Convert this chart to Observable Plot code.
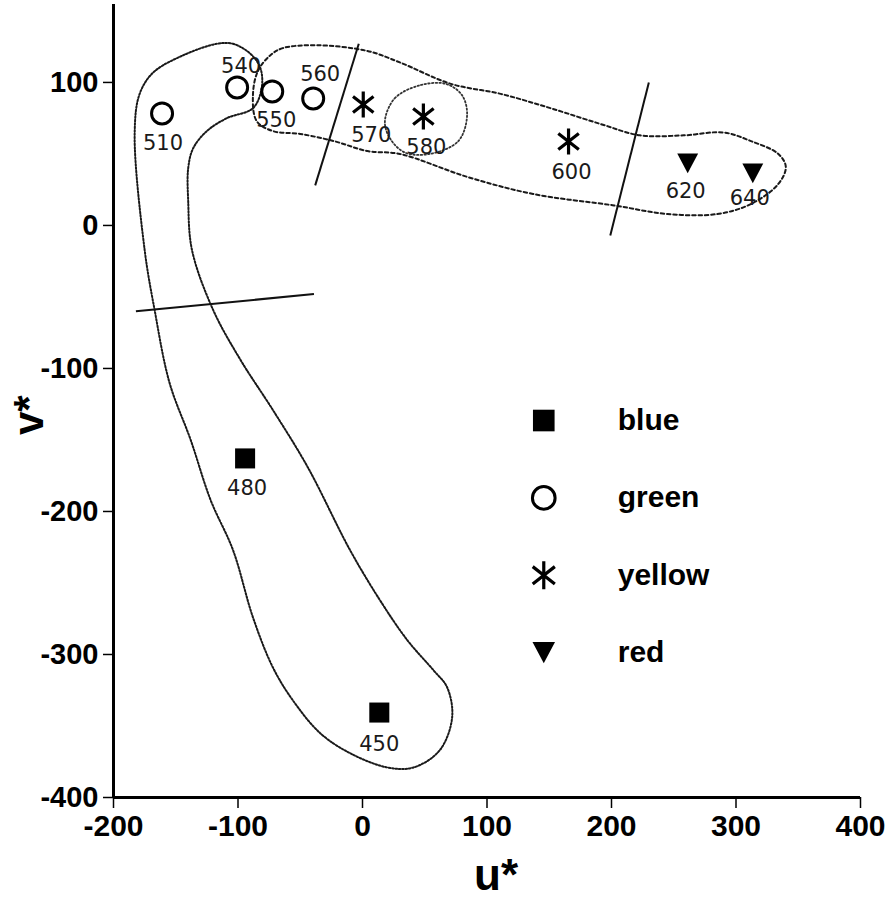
<!DOCTYPE html>
<html><head><meta charset="utf-8">
<script src="https://cdn.jsdelivr.net/npm/d3@7"></script>
<script src="https://cdn.jsdelivr.net/npm/@observablehq/plot@0.6"></script>
<style>body{margin:0;background:#fff;} #chart{width:888px;height:905px;}</style>
</head><body><div id="chart"></div>
<script>
// ---- data ----
const wavelengths = [450, 480, 510, 540, 550, 560, 570, 580, 600, 620, 640];
const uStar = [13.5, -94.3, -161, -100.7, -72.5, -39.6, 0.6, 48.9, 165.5, 261.2, 313.5];
const vStar = [-340.6, -162.9, 78.3, 96.5, 93.7, 88.8, 84.6, 76.2, 58.7, 43.4, 36.4];
const colorNames = ["blue","blue","green","green","green","green","yellow","yellow","yellow","red","red"];
const legendLabels = ["blue","green","yellow","red"];
const xTicks = [-200, -100, 0, 100, 200, 300, 400];
const yTicks = [-400, -300, -200, -100, 0, 100];

// closed outlines [u*, v*]
const blueGreenOutline = [[-117,127],[-104,127],[-90,120],[-82,110],[-81,96],[-88,82],[-109,75],[-125,66],[-136,54],[-140,40],[-140,17],[-137,-17],[-120,-59],[-98,-94],[-72,-129],[-44,-169],[-10,-227],[14,-262],[36,-290],[57,-311],[68,-323],[72,-344],[62,-367],[41,-379],[20,-379],[-10,-369],[-34,-355],[-56,-332],[-72,-309],[-88,-274],[-104,-227],[-122,-192],[-138,-150],[-155,-110],[-167,-59],[-175,-17],[-183,64],[-179,92],[-168,107],[-144,119]];
const greenRedOutline = [[-88,91],[-84,108],[-74,119],[-64,124],[-36,126],[4,122],[30,114],[71,99],[111,92],[151,82],[191,71],[223,63],[258,63],[290,65],[312,59],[334,50],[340,41],[334,29],[312,15],[285,8],[245,8],[202,14],[137,22],[84,34],[30,50],[4,52],[-23,59],[-50,64],[-72,66],[-85,73]];
const yellowOutline = [[18,73],[26,89],[46,98],[67,99],[80,91],[84,77],[77,59],[54,50],[34,51],[22,61]];
// boundary lines between colour names
const boundaryU1 = [-3, 230, -182];
const boundaryV1 = [127, 100, -60];
const boundaryU2 = [-38, 199, -39];
const boundaryV2 = [28, -7, -48];

// ---- layout ----
const labelOffsets = {450:[0,32],480:[2,30],510:[1,30],540:[4,-21],550:[4,29],560:[7,-24],570:[8,31],580:[3,31],600:[3,31],620:[-2,28],640:[-3,25]};
const boldFont = "Liberation Sans, Arial, Helvetica, sans-serif";
const labelFont = "DejaVu Sans, sans-serif";

const triangleDown = {
  draw(ctx, size) {
    const r = Math.sqrt(size / Math.PI);
    const w = r * 1.9, h = w * 0.95;
    ctx.moveTo(-w / 2, -h / 2);
    ctx.lineTo(w / 2, -h / 2);
    ctx.lineTo(0, h / 2);
    ctx.closePath();
  }
};
const starSymbol = {
  draw(ctx, size) {
    const r = Math.sqrt(size / Math.PI);
    const a = 38 * Math.PI / 180;
    ctx.moveTo(0, -r); ctx.lineTo(0, r);
    ctx.moveTo(-r * Math.cos(a), -r * Math.sin(a)); ctx.lineTo(r * Math.cos(a), r * Math.sin(a));
    ctx.moveTo(-r * Math.cos(a), r * Math.sin(a)); ctx.lineTo(r * Math.cos(a), -r * Math.sin(a));
  }
};

const points = wavelengths.map((w, i) => ({w, u: uStar[i], v: vStar[i], c: colorNames[i]}));
const boundaries = boundaryU1.map((u, i) => ({u1: u, v1: boundaryV1[i], u2: boundaryU2[i], v2: boundaryV2[i]}));
const legendTop = -136.4, legendStep = -54.1, legendSymU = 145.6, legendTextU = 205;
const legend = legendLabels.map((c, i) => ({c, v: legendTop + i * legendStep}));

function symbolMarks(data, xAcc, yAcc, scale) {
  const by = c => data.filter(d => d.c === c);
  return [
    Plot.dot(by("blue"), {x: xAcc, y: yAcc, symbol: "square", r: 11.3 * scale, fill: "#000", stroke: "none"}),
    Plot.dot(by("green"), {x: xAcc, y: yAcc, symbol: "circle", r: 10.5 * scale, fill: "none", stroke: "#000", strokeWidth: 3}),
    Plot.dot(by("yellow"), {x: xAcc, y: yAcc, symbol: starSymbol, r: 13 * scale, fill: "none", stroke: "#000", strokeWidth: 3.2}),
    Plot.dot(by("red"), {x: xAcc, y: yAcc, symbol: triangleDown, r: 11 * scale, fill: "#000", stroke: "none"})
  ];
}

const chart = Plot.plot({
  width: 888,
  height: 905,
  marginLeft: 113,
  marginRight: 28,
  marginTop: 4,
  marginBottom: 108,
  x: {domain: [-200, 400]},
  y: {domain: [-400, 154.5]},
  style: {background: "#fff"},
  marks: [
    Plot.line(blueGreenOutline, {x: d => d[0], y: d => d[1], curve: "catmull-rom-closed", stroke: "#1a1a1a", strokeWidth: 2, strokeDasharray: "1.6,1.8"}),
    Plot.line(greenRedOutline, {x: d => d[0], y: d => d[1], curve: "catmull-rom-closed", stroke: "#1a1a1a", strokeWidth: 2, strokeDasharray: "3.5,2.8"}),
    Plot.line(yellowOutline, {x: d => d[0], y: d => d[1], curve: "catmull-rom-closed", stroke: "#333", strokeWidth: 1.8, strokeDasharray: "1.5,2.2"}),
    Plot.link(boundaries, {x1: "u1", y1: "v1", x2: "u2", y2: "v2", stroke: "#111", strokeWidth: 2}),
    Plot.ruleX([-200], {stroke: "#000", strokeWidth: 3}),
    Plot.ruleY([-400], {stroke: "#000", strokeWidth: 3}),
    Plot.axisX(xTicks, {tickSize: 11, tickPadding: 6, fontSize: 30, fontWeight: "bold", fontFamily: boldFont, label: null, stroke: "#000", strokeWidth: 1.5, fill: "#000", tickFormat: d => String(d)}),
    Plot.axisY(yTicks, {tickSize: 10, tickPadding: 5, fontSize: 29, fontWeight: "bold", fontFamily: boldFont, label: null, stroke: "#000", strokeWidth: 1.5, fill: "#000", tickFormat: d => String(d)}),
    ...symbolMarks(points, "u", "v", 1),
    ...points.map(p => Plot.text([p], {x: "u", y: "v", text: d => String(d.w), dx: labelOffsets[p.w][0], dy: labelOffsets[p.w][1], fontSize: 21, fontFamily: labelFont, fill: "#1a1a1a"})),
    ...symbolMarks(legend, () => legendSymU, "v", 1.08),
    Plot.text(legend, {x: () => legendTextU, y: "v", text: "c", textAnchor: "start", fontSize: 30, fontWeight: "bold", fontFamily: boldFont, fill: "#000"}),
    Plot.text(["u*"], {frameAnchor: "bottom", dx: 9, dy: 92, text: d => d, fontSize: 44, fontWeight: "bold", fontFamily: boldFont, fill: "#000"}),
    Plot.text(["v*"], {frameAnchor: "left", dx: -84, dy: 34, rotate: -90, text: d => d, fontSize: 42, fontWeight: "bold", fontFamily: boldFont, fill: "#000"})
  ]
});
document.getElementById("chart").appendChild(chart);
</script>
</body></html>
